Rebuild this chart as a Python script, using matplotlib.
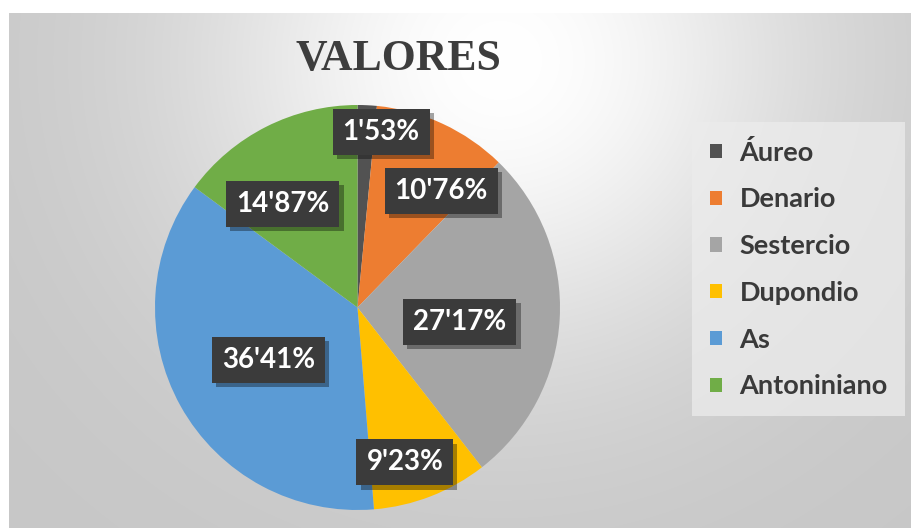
import numpy as np
import matplotlib
matplotlib.use("Agg")
import matplotlib.pyplot as plt
import matplotlib.patheffects as pe

# ---- data ----
categories = ["Áureo", "Denario", "Sestercio", "Dupondio", "As", "Antoniniano"]
values = [1.53, 10.76, 27.17, 9.23, 36.41, 14.87]
value_labels = ["1'53%", "10'76%", "27'17%", "9'23%", "36'41%", "14'87%"]
colors = ["#525252", "#ED7D31", "#A5A5A5", "#FFC000", "#5B9BD5", "#70AD47"]

# label placement style (radius fraction, angular nudge in degrees, ccw positive)
label_r = [0.875, 0.71, 0.51, 0.80, 0.51, 0.63]
label_dtheta = [-4.9, -10.8, -4.8, -4.3, 1.2, 9.1]

W, H = 911, 529
fig = plt.figure(figsize=(W / 100, H / 100), dpi=100)

# ---- background ----
bg_ax = fig.add_axes([0, 0, 1, 1])
yy, xx = np.mgrid[0:H, 0:W]
r = np.hypot((xx - 500) / 1.0, (yy - 60) / 0.95)
val = 199 + 56 * np.exp(-(r / 310.0) ** 2)
img = np.ones((H, W, 3))
g = val / 255.0
inside = (xx >= 9) & (yy >= 13) & (yy <= 527)
for c in range(3):
    ch = img[..., c]
    ch[inside] = g[inside]
bg_ax.imshow(img, extent=[0, W, H, 0], aspect="auto", interpolation="bilinear")
bg_ax.set_xlim(0, W)
bg_ax.set_ylim(H, 0)
bg_ax.axis("off")

# ---- pie ----
cx, cy, R = 357.5, 307.5, 202.5
pie_ax = fig.add_axes([(cx - R) / W, (H - cy - R) / H, 2 * R / W, 2 * R / H])
wedges, _ = pie_ax.pie(values, colors=colors, startangle=90, counterclock=False,
                       radius=1.0, wedgeprops=dict(linewidth=0))
pie_ax.set_xlim(-1, 1)
pie_ax.set_ylim(-1, 1)
pie_ax.set_aspect("equal")
pie_ax.axis("off")

label_font = ["Lato", "DejaVu Sans"]
for w, lab, rf, dt in zip(wedges, value_labels, label_r, label_dtheta):
    ang = np.deg2rad((w.theta1 + w.theta2) / 2 + dt)
    x, y = rf * np.cos(ang), rf * np.sin(ang)
    t = pie_ax.text(x, y, lab, ha="center", va="center", color="white",
                    fontsize=20, fontweight="bold", family=label_font,
                    bbox=dict(boxstyle="square,pad=0.36", facecolor="#3b3b3b",
                              edgecolor="none"))
    t.get_bbox_patch().set_path_effects([
        pe.SimplePatchShadow(offset=(3, -3), shadow_rgbFace="black", alpha=0.35),
        pe.Normal()])

# ---- title ----
fig.text(398 / W, 1 - 70 / H, "VALORES", ha="center", va="baseline",
         family=["Liberation Serif", "DejaVu Serif"], fontweight="bold",
         fontsize=31.5, color="#3d3d3d")

# ---- legend ----
leg = fig.legend(wedges, categories, loc="upper left",
                 bbox_to_anchor=(692 / W, 1 - 122 / H),
                 frameon=True, fancybox=False, borderaxespad=0,
                 borderpad=0.65, handlelength=0.44, handleheight=0.44,
                 handletextpad=0.66, labelspacing=0.84,
                 prop=dict(family=label_font, weight="bold", size=19.5))
frame = leg.get_frame()
frame.set_facecolor("#ececec")
frame.set_alpha(0.75)
frame.set_edgecolor("none")
for txt in leg.get_texts():
    txt.set_color("#3a3a3a")

fig.savefig("out.png", dpi=100)
